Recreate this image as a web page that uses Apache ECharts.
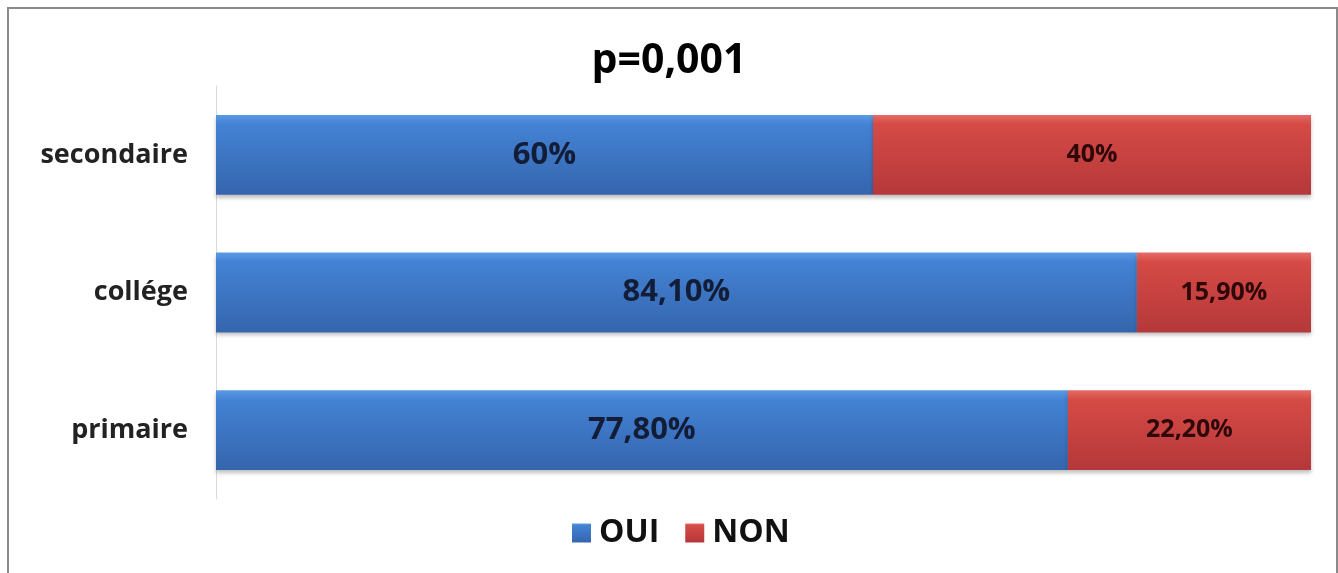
<!DOCTYPE html>
<html>
<head>
<meta charset="utf-8">
<title>p=0,001</title>
<script src="https://cdn.jsdelivr.net/npm/echarts@6/dist/echarts.min.js"></script>
<style>
  html, body { margin: 0; padding: 0; background: #fff; }
  #chart { width: 1338px; height: 573px; }
</style>
</head>
<body>
<div id="chart"></div>
<script>
// categories bottom -> top (category axis on y starts at the bottom)
const categories = ['primaire', 'collége', 'secondaire'];
const ouiValues = [77.8, 84.1, 60];
const nonValues = [22.2, 15.9, 40];
const seriesNames = ['OUI', 'NON'];

const fontFamily = '"Open Sans", Lato, sans-serif';

// 60 -> "60%", 84.1 -> "84,10%"
function pct(v) {
  const s = Number.isInteger(v) ? String(v) : v.toFixed(2);
  return s.replace('.', ',') + '%';
}

const blue = new echarts.graphic.LinearGradient(0, 0, 0, 1, [
  { offset: 0, color: '#5b9ae4' },
  { offset: 0.12, color: '#4382d4' },
  { offset: 1, color: '#3565ad' },
]);
const red = new echarts.graphic.LinearGradient(0, 0, 0, 1, [
  { offset: 0, color: '#e56b66' },
  { offset: 0.12, color: '#d54a45' },
  { offset: 1, color: '#b5383a' },
]);

const chart = echarts.init(document.getElementById('chart'));

chart.setOption({
  animation: false,
  title: {
    text: 'p=0,001',
    left: 'center',
    top: 36,
    textStyle: { fontFamily, fontSize: 41, fontWeight: 'bold', color: '#000' },
  },
  legend: {
    data: seriesNames,
    bottom: 19,
    left: 567,
    itemWidth: 19,
    itemHeight: 19,
    itemGap: 26,
    icon: 'rect',
    textStyle: { fontFamily, fontSize: 32, fontWeight: 'bold', color: '#111', padding: [0, 0, 0, 3] },
  },
  grid: { left: 216, right: 27, top: 86, bottom: 74 },
  xAxis: {
    type: 'value',
    min: 0,
    max: 100,
    show: false,
  },
  yAxis: {
    type: 'category',
    data: categories,
    axisLine: { show: true, lineStyle: { color: '#d9d9d9', width: 1 } },
    axisTick: { show: false },
    axisLabel: {
      fontFamily,
      fontSize: 27,
      fontWeight: 'bold',
      color: '#222',
      margin: 28,
    },
  },
  series: [
    {
      name: 'OUI',
      type: 'bar',
      stack: 'total',
      data: ouiValues,
      barCategoryGap: '42%',
      itemStyle: { color: blue, shadowColor: 'rgba(0,0,0,0.25)', shadowBlur: 4, shadowOffsetY: 3 },
      label: {
        show: true,
        position: 'inside',
        formatter: p => pct(p.value),
        fontFamily,
        fontSize: 31,
        fontWeight: 'bold',
        color: '#131d38',
      },
    },
    {
      name: 'NON',
      type: 'bar',
      stack: 'total',
      data: nonValues,
      barCategoryGap: '42%',
      itemStyle: { color: red, shadowColor: 'rgba(0,0,0,0.25)', shadowBlur: 4, shadowOffsetY: 3 },
      label: {
        show: true,
        position: 'inside',
        formatter: p => pct(p.value),
        fontFamily,
        fontSize: 25,
        fontWeight: 'bold',
        color: '#2e0808',
      },
    },
  ],
  graphic: [
    {
      type: 'polyline',
      shape: { points: [[8, 573], [8, 8], [1337, 8], [1337, 573]] },
      style: { stroke: '#8a8a8a', lineWidth: 2, fill: null },
      silent: true,
    },
  ],
});
</script>
</body>
</html>
